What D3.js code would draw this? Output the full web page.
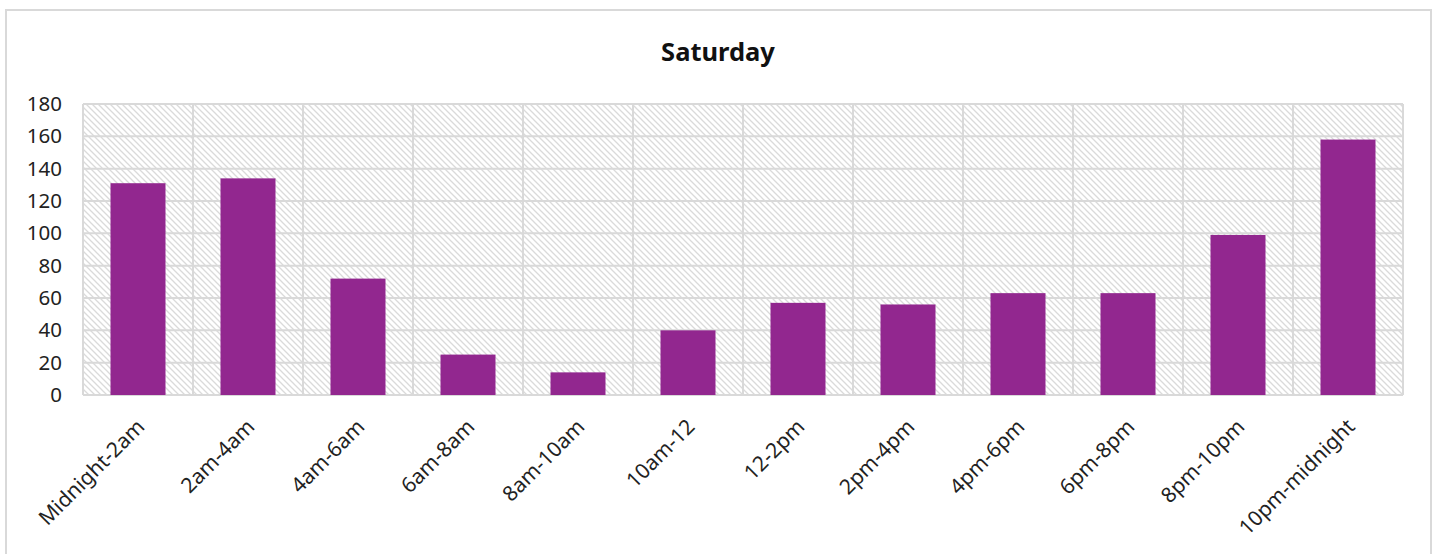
<!DOCTYPE html>
<html>
<head>
<meta charset="utf-8">
<script src="https://cdn.jsdelivr.net/npm/d3@7"></script>
<style>
  html, body { margin: 0; padding: 0; background: #fff; }
  svg { display: block; }
</style>
</head>
<body>
<svg id="chart" width="1437" height="554"></svg>
<script>
const title = "Saturday";
const categories = ["Midnight-2am", "2am-4am", "4am-6am", "6am-8am", "8am-10am", "10am-12",
  "12-2pm", "2pm-4pm", "4pm-6pm", "6pm-8pm", "8pm-10pm", "10pm-midnight"];
const values = [131, 134, 72, 25, 14, 40, 57, 56, 63, 63, 99, 158];
const yTicks = [0, 20, 40, 60, 80, 100, 120, 140, 160, 180];

const svg = d3.select("#chart");
const plot = { left: 83, right: 1403, top: 104, bottom: 395 };
const fontFam = "'Noto Sans', 'Liberation Sans', sans-serif";

// frame
svg.append("rect").attr("x", 6).attr("y", 10).attr("width", 1425).attr("height", 560)
  .attr("fill", "#fff").attr("stroke", "#d9d9d9").attr("stroke-width", 2);

// hatch pattern
const defs = svg.append("defs");
const pat = defs.append("pattern").attr("id", "hatch")
  .attr("patternUnits", "userSpaceOnUse").attr("width", 6).attr("height", 6);
pat.append("rect").attr("width", 6).attr("height", 6).attr("fill", "#fff");
pat.append("path").attr("d", "M-1,-1 L7,7 M-1,5 L1,7 M5,-1 L7,1")
  .attr("stroke", "#dadada").attr("stroke-width", 1.3);

const x = d3.scaleBand().domain(categories).range([plot.left, plot.right]).paddingInner(0.5).paddingOuter(0.25);
const xb = d3.scaleBand().domain(categories).range([plot.left, plot.right]);
const y = d3.scaleLinear().domain([0, 180]).range([plot.bottom, plot.top]);

svg.append("rect").attr("x", plot.left).attr("y", plot.top)
  .attr("width", plot.right - plot.left).attr("height", plot.bottom - plot.top)
  .attr("fill", "url(#hatch)");

// gridlines horizontal
svg.append("g").selectAll("line").data(yTicks).join("line")
  .attr("x1", plot.left).attr("x2", plot.right)
  .attr("y1", d => y(d)).attr("y2", d => y(d))
  .attr("stroke", "#d9d9d9").attr("stroke-width", 2);
// vertical gridlines at category boundaries
const bounds = categories.map(c => xb(c)).concat([plot.right]);
svg.append("g").selectAll("line").data(bounds).join("line")
  .attr("x1", d => d).attr("x2", d => d)
  .attr("y1", plot.top).attr("y2", plot.bottom)
  .attr("stroke", "#d9d9d9").attr("stroke-width", 2);

// bars
svg.append("g").selectAll("rect").data(values).join("rect")
  .attr("x", (d, i) => x(categories[i]))
  .attr("width", x.bandwidth())
  .attr("y", d => y(d))
  .attr("height", d => y(0) - y(d))
  .attr("fill", "#92278f");

// y axis
const yAxis = d3.axisLeft(y).tickValues(yTicks).tickSize(0).tickPadding(21);
const gy = svg.append("g").attr("transform", `translate(${plot.left},0)`).call(yAxis);
gy.select(".domain").remove();
gy.selectAll("text").attr("font-family", fontFam).attr("font-size", 20.5).attr("fill", "#222");

// x axis
const xAxis = d3.axisBottom(xb).tickSize(0).tickPadding(0);
const gx = svg.append("g").attr("transform", `translate(0,${plot.bottom})`).call(xAxis);
gx.select(".domain").remove();
gx.selectAll("text")
  .attr("font-family", fontFam).attr("font-size", 21).attr("fill", "#222")
  .attr("text-anchor", "end")
  .attr("dy", null).attr("y", 0)
  .attr("transform", "translate(8,33) rotate(-45)");

// title
svg.append("text").attr("x", 718).attr("y", 61).attr("text-anchor", "middle")
  .attr("font-family", fontFam).attr("font-size", 25.5).attr("font-weight", "bold")
  .attr("fill", "#111").text(title);
</script>
</body>
</html>
